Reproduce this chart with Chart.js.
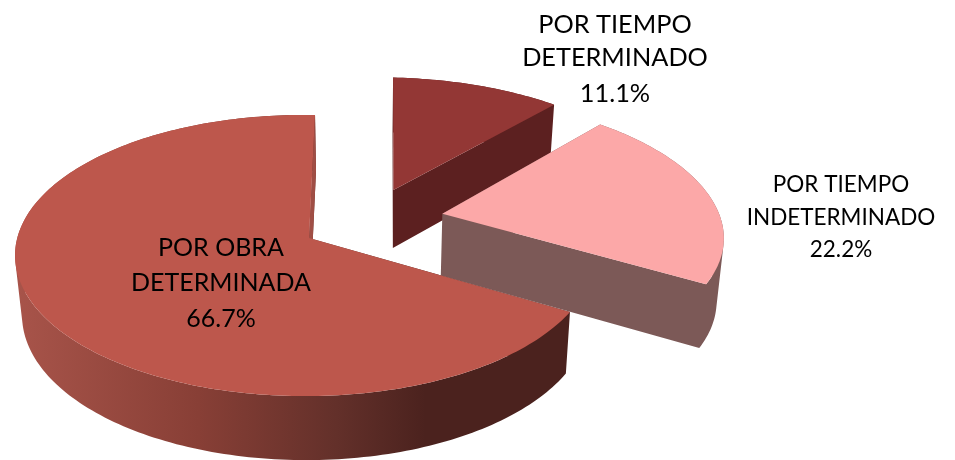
<!DOCTYPE html>
<html><head><meta charset="utf-8">
<script src="https://cdn.jsdelivr.net/npm/chart.js@4/dist/chart.umd.js"></script>
<style>html,body{margin:0;padding:0;background:#fff}#wrap{width:955px;height:460px;position:relative}</style>
</head><body><div id="wrap"><canvas id="c" width="955" height="460"></canvas></div>
<script>
const categories = [['POR TIEMPO','DETERMINADO'],['POR TIEMPO','INDETERMINADO'],['POR OBRA','DETERMINADA']];
const values = [11.1, 22.2, 66.7];
const topColors = ['#933735','#FCA8A8','#BD574C'];
const wallColors = ['#5C2020','#7C5957','#A04E45'];

// camera model of the 3D view: maps pie plane coordinates (in radii) to the screen
const CAM = {x0:312,a:299,b:-42.3,y0:238,g:8,e:108.7,c:-0.1246,d:0.024,sx:0.2234,sy:-0.129};
// small per-slice corrections of the view
const VIEW = [{apexDx:-6,dy:0,rx:1,wallDy:0},{apexDx:-5,dy:-2,rx:1,wallDy:3},{apexDx:-3,dy:0,rx:0.985,wallDy:0}];
function project(X,Y){
  const U=X+CAM.sx, V=Y+CAM.sy, w=1+CAM.c*V+CAM.d*U;
  return [(CAM.x0+CAM.a*U+CAM.b*V)/w,(CAM.y0+CAM.g*U+CAM.e*V)/w];
}
function drop(p,extra){ return [0.98*p[0]+7.3, 1.029*p[1]+52.5+extra]; }

class Arc3D extends Chart.ArcElement {
  static id='arc3d';
  static defaults=Chart.ArcElement.defaults;
  static defaultRoutes=Chart.ArcElement.defaultRoutes;
  draw(ctx){
    const o=this.options, s=this.startAngle, t=this.endAngle, R=this.outerRadius;
    const idx=this.$context.dataIndex, v=VIEW[idx];
    const mid=(s+t)/2, e=(o.offset||0)/R, ox=e*Math.cos(mid), oy=e*Math.sin(mid);
    const ap=project(ox,oy), apex=[ap[0]+v.apexDx,ap[1]+v.dy], rim=[];
    const n=Math.max(8,Math.ceil((t-s)/0.02));
    for(let i=0;i<=n;i++){
      const a=s+(t-s)*i/n, p=project(ox+v.rx*Math.cos(a),oy+Math.sin(a));
      rim.push([p[0],p[1]+v.dy]);
    }
    const quad=(p,q)=>{
      const P=drop(p,v.wallDy),Q=drop(q,v.wallDy);
      const area=(q[0]-p[0])*(Q[1]-p[1])-(q[1]-p[1])*(Q[0]-p[0]);
      const pts=area>=0?[p,q,Q,P]:[p,P,Q,q];
      ctx.moveTo(pts[0][0],pts[0][1]);
      for(let k=1;k<4;k++)ctx.lineTo(pts[k][0],pts[k][1]);
      ctx.closePath();
    };
    ctx.save();
    ctx.beginPath();
    quad(apex,rim[0]); quad(rim[n],apex);
    for(let i=0;i<n;i++)quad(rim[i],rim[i+1]);
    if(idx===2){
      const g=ctx.createLinearGradient(15,0,570,0);
      g.addColorStop(0,'#A8544A');g.addColorStop(0.33,'#883F36');g.addColorStop(0.58,'#63302A');g.addColorStop(0.74,'#4B221E');g.addColorStop(1,'#4B221E');
      ctx.fillStyle=g;
    } else ctx.fillStyle=wallColors[idx];
    ctx.fill();
    if(idx===2){ctx.beginPath();quad(apex,rim[n]);ctx.fillStyle=wallColors[2];ctx.fill();}
    ctx.beginPath();
    ctx.moveTo(apex[0],apex[1]);
    rim.forEach(p=>ctx.lineTo(p[0],p[1]));
    ctx.closePath();
    ctx.fillStyle=o.backgroundColor;
    ctx.fill();
    ctx.restore();
  }
}
class Pie3D extends Chart.PieController {
  static id='pie3d';
  static defaults={...Chart.PieController.defaults,dataElementType:'arc3d'};
  static overrides=Chart.PieController.overrides;
}
Chart.register(Arc3D,Pie3D);

const labelStyle=[{x:615,ys:[25,58,94],size:25.3},{x:841,ys:[185,218,250],size:22.5},{x:221,ys:[248,283,319],size:25}];
const sliceLabels={id:'sliceLabels',afterDatasetsDraw(chart){
  const ctx=chart.ctx;
  ctx.save();
  ctx.fillStyle='#000';ctx.textAlign='center';ctx.textBaseline='middle';
  chart.data.labels.forEach((lab,i)=>{
    const st=labelStyle[i];
    ctx.font=st.size+'px Lato, "Open Sans", sans-serif';
    const txt=[...lab,chart.data.datasets[0].data[i].toFixed(1)+'%'];
    txt.forEach((t,k)=>ctx.fillText(t,st.x,st.ys[k]));
  });
  ctx.restore();
}};

new Chart(document.getElementById('c'),{
  type:'pie3d',
  data:{labels:categories,datasets:[{data:values,backgroundColor:topColors,borderWidth:0,offset:52.6}]},
  options:{responsive:false,animation:false,layout:{padding:0},
    plugins:{legend:{display:false},tooltip:{enabled:false}}},
  plugins:[sliceLabels]
});
</script></body></html>
